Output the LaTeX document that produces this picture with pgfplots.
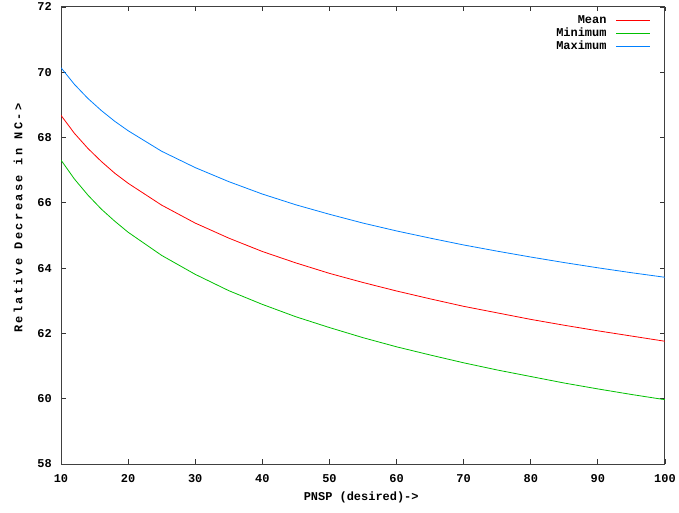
\documentclass[border=0pt]{standalone}
\usepackage{fontspec}
\setmainfont{Liberation Mono}
\usepackage{pgfplots}
\pgfplotsset{compat=1.18}
\definecolor{gpred}{RGB}{255,0,0}
\definecolor{gpgreen}{RGB}{0,192,0}
\definecolor{gpblue}{RGB}{0,128,255}
\newcommand{\gpfont}{\bfseries\fontsize{12}{14}\selectfont}
\begin{document}
\begin{tikzpicture}[x=1bp,y=1bp]
\begin{axis}[
  scale only axis,
  width=604bp, height=457bp,
  at={(0,0)}, anchor=south west,
  xmin=10, xmax=100, ymin=58, ymax=72,
  xtick={10,20,...,100},
  ytick={58,60,...,72},
  /pgf/number format/assume math mode=true,
  tick label style={font=\gpfont},
  xticklabel style={anchor=center, yshift=-15bp, inner sep=0pt},
  yticklabel style={anchor=east, xshift=-9bp, inner sep=0pt},
  major tick length=4.5bp,
  tick style={draw=black!80, line width=0.8bp},
  axis line style={draw=black!75, line width=1bp},
  every axis x label/.style={at={(axis description cs:0.497,-0.0722)}, anchor=center, font=\gpfont},
  every axis y label/.style={at={(axis description cs:-0.0712,0.538)}, rotate=90, anchor=center, font=\gpfont\addfontfeatures{LetterSpace=20}},
  xlabel={PNSP (desired)->},
  ylabel={Relative Decrease in NC->},
  legend plot pos=right,
  legend cell align=right,
  legend image code/.code={\path (0bp,0bp); \draw[#1] (8bp,0bp) -- (42bp,0bp);},
  legend style={draw=none, fill=none, at={(1,1)}, anchor=north east, xshift=-14bp, yshift=-7bp,
    font=\gpfont, row sep=0bp, inner sep=0pt,
    nodes={inner sep=1.5bp, text height=8bp, text depth=2bp}},
  every axis plot/.append style={line width=0.8bp},
]
\addplot[gpred] coordinates {
(10,68.68) (12,68.13) (14,67.67) (16,67.27) (18,66.91) (20,66.60) (25,65.93)
(30,65.38) (35,64.92) (40,64.51) (45,64.16) (50,63.84) (55,63.56) (60,63.30)
(65,63.06) (70,62.83) (75,62.63) (80,62.43) (85,62.25) (90,62.08) (95,61.92) (100,61.76)
};
\addlegendentry{Mean}
\addplot[gpgreen] coordinates {
(10,67.31) (12,66.73) (14,66.24) (16,65.81) (18,65.44) (20,65.10) (25,64.39)
(30,63.81) (35,63.31) (40,62.89) (45,62.51) (50,62.18) (55,61.87) (60,61.59)
(65,61.34) (70,61.10) (75,60.88) (80,60.68) (85,60.48) (90,60.30) (95,60.13) (100,59.97)
};
\addlegendentry{Minimum}
\addplot[gpblue] coordinates {
(10,70.14) (12,69.63) (14,69.20) (16,68.83) (18,68.50) (20,68.21) (25,67.58)
(30,67.08) (35,66.65) (40,66.27) (45,65.94) (50,65.65) (55,65.38) (60,65.14)
(65,64.92) (70,64.71) (75,64.52) (80,64.34) (85,64.17) (90,64.01) (95,63.86) (100,63.72)
};
\addlegendentry{Maximum}
\end{axis}
\path[use as bounding box] (-61bp,-49bp) rectangle (618bp,464bp);
\end{tikzpicture}
\end{document}
